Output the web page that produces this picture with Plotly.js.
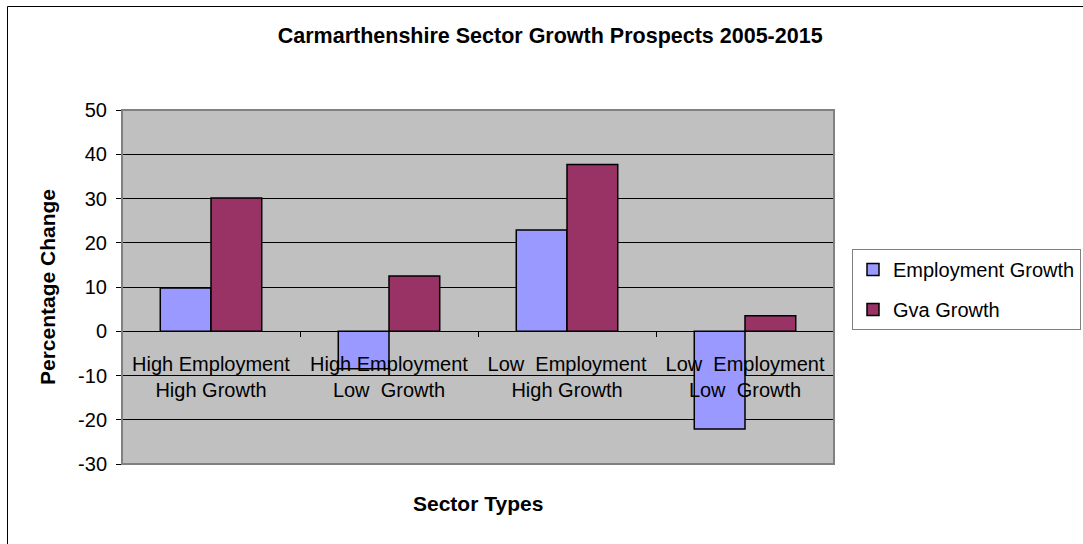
<!DOCTYPE html>
<html>
<head>
<meta charset="utf-8">
<script src="https://cdn.plot.ly/plotly-3.0.1.min.js"></script>
<style>html,body{margin:0;padding:0;background:#fff;}#chart{width:1083px;height:544px;}</style>
</head>
<body>
<div id="chart"></div>
<script>
const categories = [
  "High Employment<br>High Growth",
  "High Employment<br>Low  Growth",
  "Low  Employment<br>High Growth",
  "Low  Employment<br>Low  Growth"
];
const employmentGrowth = [9.8, -8.5, 22.9, -22.1];
const gvaGrowth = [30.1, 12.5, 37.7, 3.5];
const seriesNames = ["Employment Growth", "Gva Growth"];
const yTicks = [50, 40, 30, 20, 10, 0, -10, -20, -30];

const FONT = "Liberation Sans, Arial, sans-serif";
const yMin = -30, yMax = 50;

const traces = [
  {type: "bar", name: seriesNames[0], x: categories, y: employmentGrowth, legendgroup: "a",
   marker: {color: "#9999FF", line: {color: "#000", width: 1.5}}, hoverinfo: "skip"},
  {type: "bar", name: seriesNames[1], x: categories, y: gvaGrowth, legendgroup: "b",
   marker: {color: "#993366", line: {color: "#000", width: 1.5}}, hoverinfo: "skip"}
];

const layout = {
  width: 1083, height: 544,
  margin: {l: 122, r: 249, t: 110, b: 80, pad: 0},
  paper_bgcolor: "#ffffff",
  plot_bgcolor: "#c0c0c0",
  font: {family: FONT, size: 20, color: "#000"},
  barmode: "group",
  bargap: 0.43,
  bargroupgap: 0,
  title: {text: "Carmarthenshire Sector Growth Prospects 2005-2015",
    font: {family: FONT, size: 21.5, color: "#000", weight: "bold"},
    xref: "container", yref: "container", x: 0.508, xanchor: "center", y: 1 - 35/544, yanchor: "middle"},
  xaxis: {
    type: "category",
    anchor: "free",
    position: (0 - yMin) / (yMax - yMin),
    showline: true, linecolor: "#000", linewidth: 1,
    ticks: "outside", tickson: "boundaries", ticklen: 5, tickcolor: "#000", tickwidth: 1,
    ticklabelstandoff: 15,
    tickfont: {family: FONT, size: 20, color: "#000"},
    showgrid: false, zeroline: false,
    fixedrange: true
  },
  yaxis: {
    range: [yMin, yMax],
    tickvals: yTicks,
    ticktext: yTicks.map(String),
    showline: true, linecolor: "#000", linewidth: 1,
    ticks: "outside", ticklen: 5, tickcolor: "#000",
    ticklabelstandoff: 5,
    tickfont: {family: FONT, size: 20, color: "#000"},
    showgrid: true, gridcolor: "#000", gridwidth: 1,
    zeroline: false,
    title: {text: "Percentage Change", font: {family: FONT, size: 21, color: "#000", weight: "bold"}, standoff: 16},
    fixedrange: true
  },
  legend: {
    xref: "container", yref: "container",
    x: 852/1083, y: 1 - 249/544, xanchor: "left", yanchor: "top",
    bgcolor: "#fff", bordercolor: "#808080", borderwidth: 1,
    font: {family: FONT, size: 20, color: "#000"},
    traceorder: "grouped", tracegroupgap: 11
  },
  annotations: [{
    text: "Sector Types", showarrow: false,
    xref: "paper", yref: "paper", x: 0.5, y: (464 - 503) / 354, xanchor: "center", yanchor: "middle",
    font: {family: FONT, size: 21, color: "#000", weight: "bold"}
  }],
  shapes: [
    {type: "rect", xref: "paper", yref: "paper", x0: 0, x1: 1, y0: 0, y1: 1,
     line: {color: "#808080", width: 2}, fillcolor: "rgba(0,0,0,0)", layer: "above"},
    {type: "rect", xref: "paper", yref: "paper", x0: (7.5 - 122) / 712, x1: 2, y0: -2, y1: (464 - 6.5) / 354,
     line: {color: "#000", width: 1}, fillcolor: "rgba(0,0,0,0)", layer: "below"}
  ],
  showlegend: true
};

Plotly.newPlot("chart", traces, layout, {displayModeBar: false, staticPlot: true});
</script>
</body>
</html>
